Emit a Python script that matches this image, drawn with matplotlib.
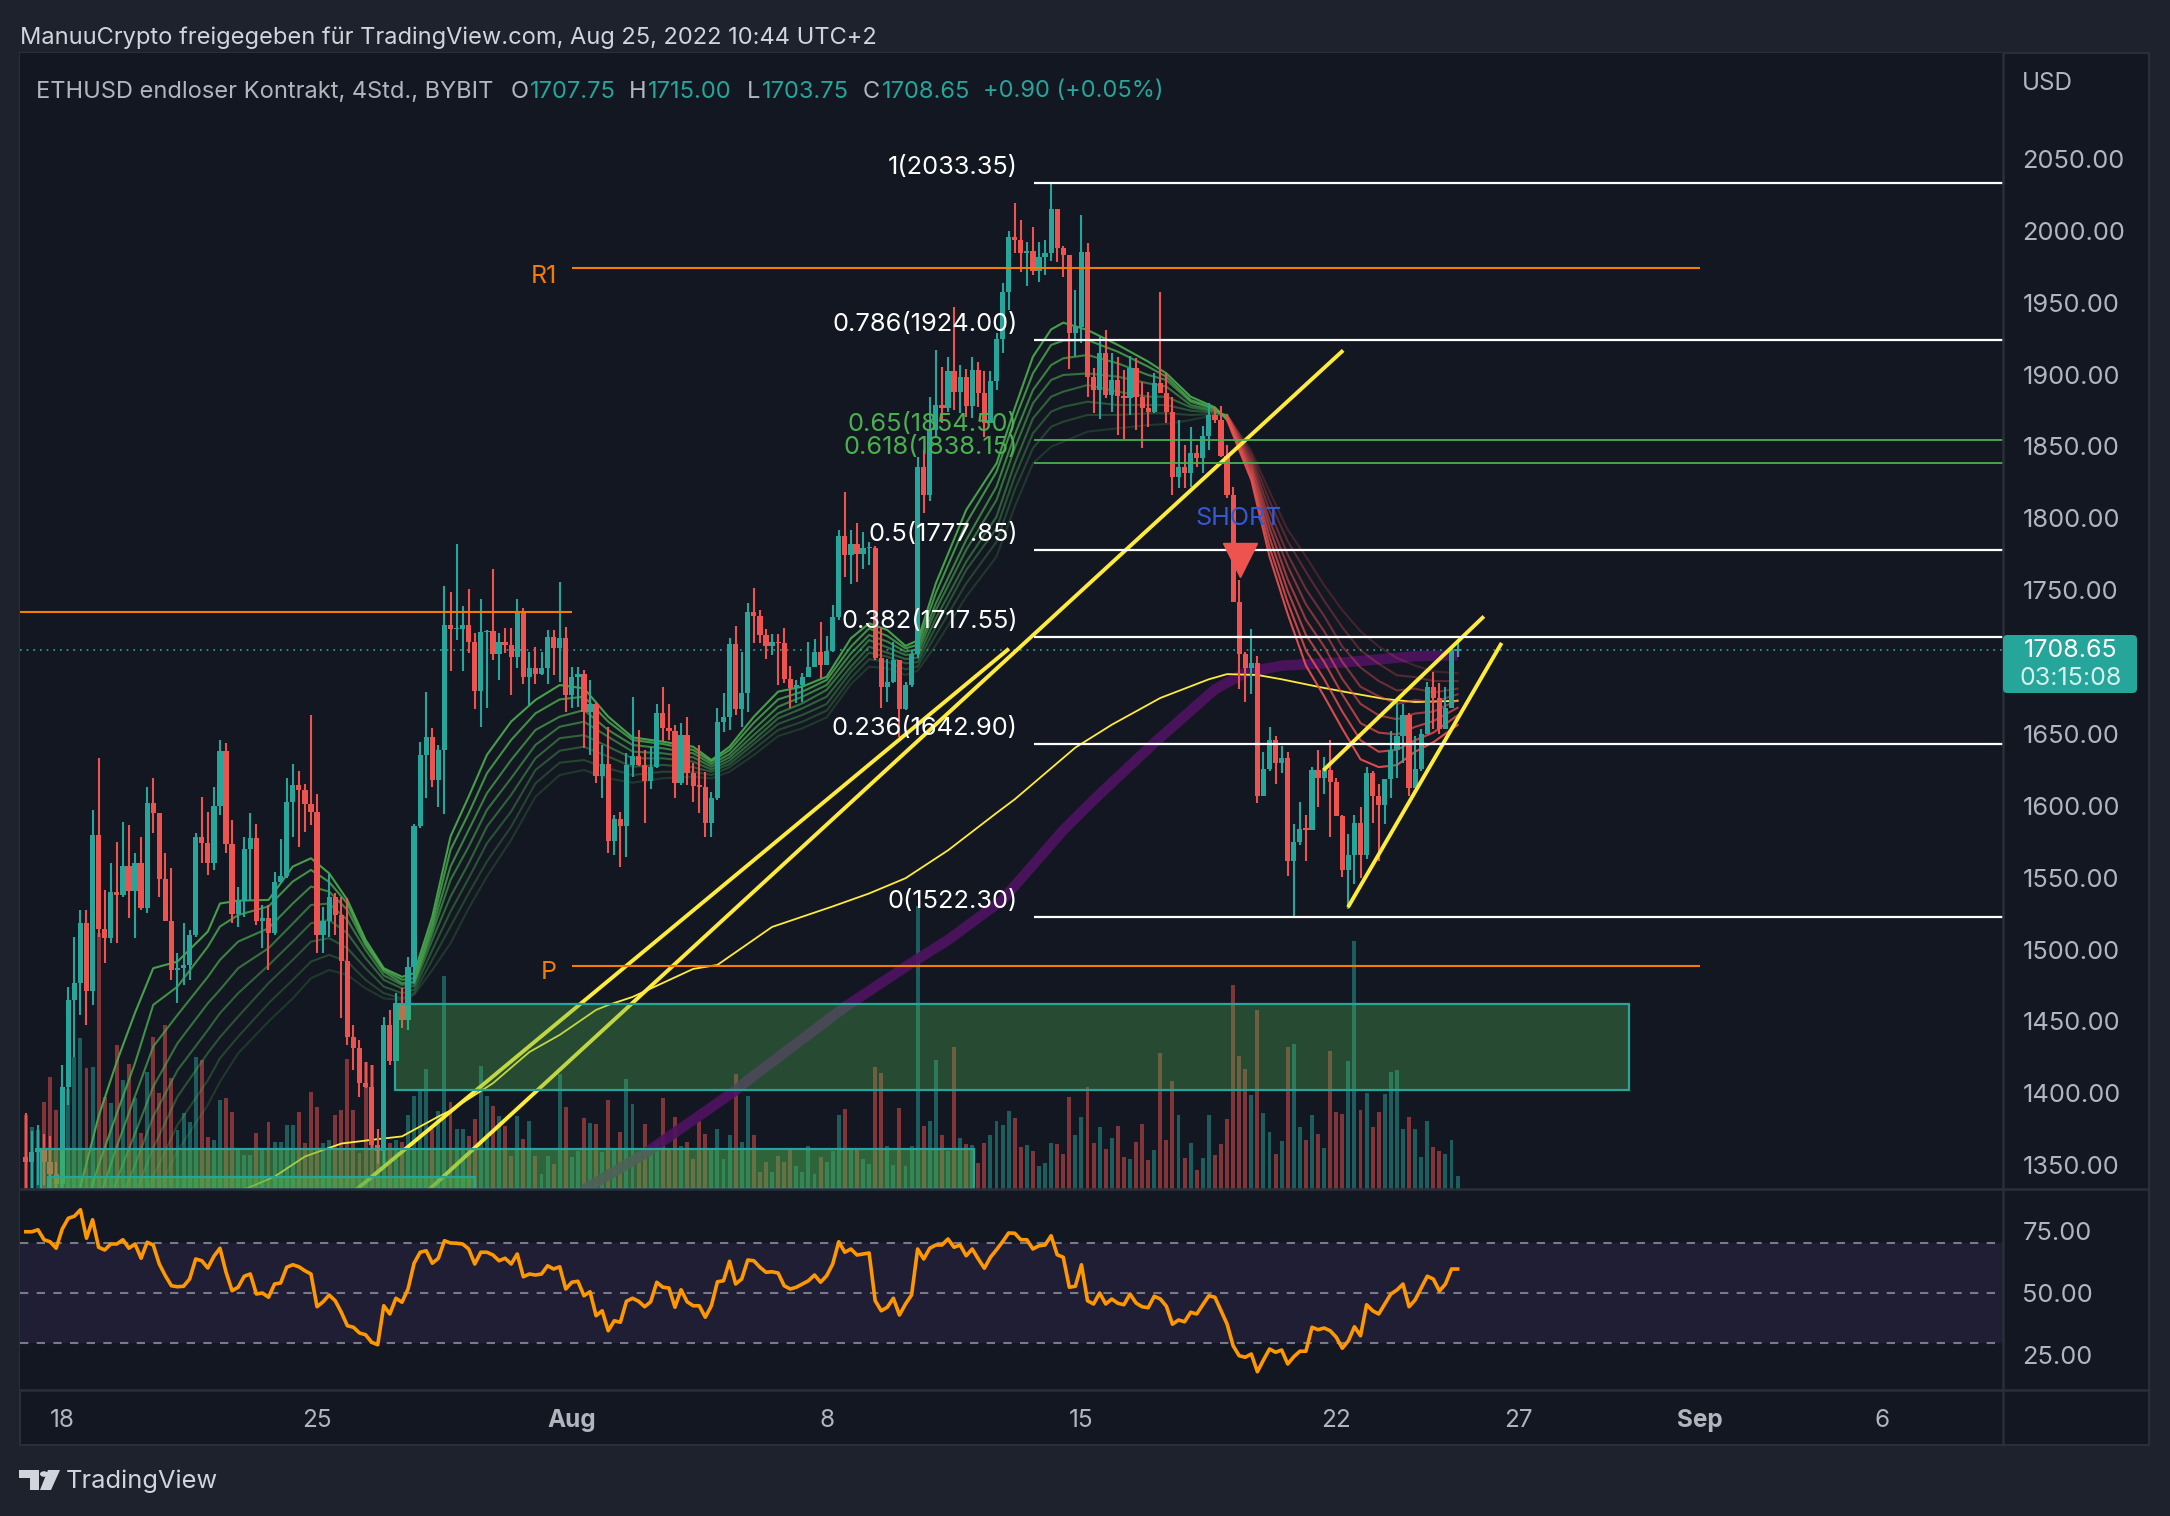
import numpy as np
import matplotlib
matplotlib.use('Agg')
import matplotlib.pyplot as plt
from matplotlib.patches import Rectangle, FancyBboxPatch, Polygon
from matplotlib.lines import Line2D

plt.rcParams['font.family'] = ['Inter', 'DejaVu Sans']

W, H = 2170, 1516

# 4h candles (open is the previous close)
first_open = 1356
closes = [
    1352,1359,1362,1352,1344,1337,1404.6,1465,1476.6,1518.3,1470.8,1579.7,1514.1,1508.3,1540.3,1538,1558.4,1541,1560,1528.7,
    1601.8,1594.8,1549.1,1520,1485.8,1487,1489.3,1510.2,1578.6,1574,1560,1600,1638.2,1573.5,1524.8,1534,1569.8,1577.4,1520,1521.8,
    1511.3,1547.3,1551.2,1602.9,1614.5,1611,1601.3,1596,1510.2,1520,1536.8,1524,1492.3,1439,1431.3,1407,1404.2,1364,1360,1447.6,
    1422.7,1462.6,1451,1488,1586,1635.4,1647.7,1618,1638.9,1726,1723,1723,1725.5,1714,1680,1720.8,1721.7,1705.8,1714,1712,
    1703.3,1735,1689.8,1695.6,1692,1695.6,1717.2,1710,1716.5,1677,1689.8,1692,1665.5,1671,1620.7,1629,1575.7,1591,1586,1628.4,
    1634.6,1628.4,1617.5,1626.7,1664.3,1654.3,1652.2,1616,1649.2,1622.6,1613.8,1613.3,1588.2,1605.2,1658.5,1662,1712.3,1667.3,1678.7,1735,
    1732,1718.8,1711.1,1714,1713,1688,1682.2,1684,1689.8,1696.8,1707.2,1698,1707.9,1731,1788,1774.2,1782,1775,1779,1779.5,
    1702.6,1682.4,1686.4,1701.4,1667.3,1684,1705.6,1835.4,1816,1861.4,1878.8,1876.5,1902.5,1888,1898,1878,1903,1887,1866,1895.7,
    1924.5,1957.7,1996,1993.6,1984.3,1986,1972.3,1981.5,1984.3,2015,1987.8,1983.2,1928.7,1932.8,1985,1898,1889,1915,1885.8,1896,
    1885,1883.5,1904.3,1884.6,1876.5,1874.2,1893.9,1887.4,1874.2,1828.5,1835.4,1831.3,1845.6,1841.7,1857.2,1871.9,1868.4,1843.3,1816.2,1742,
    1705.5,1695.6,1699.4,1607,1625.6,1645.6,1629.6,1633,1561.7,1575,1583.8,1583.3,1624.8,1619.5,1624.8,1616.3,1592.9,1555,1565.7,1587.8,
    1565.7,1623,1607,1600.3,1618.4,1638.9,1648.2,1662.9,1612.3,1625.6,1649.6,1682.3,1674.9,1653.6,1668.2,1707.75,1708.65,
]
highs = [
    1386,1374,1378,1372,1370,1352,1419.7,1474.2,1509,1527.6,1527.6,1597.1,1633.1,1541.5,1560,1575.1,1589,1586.7,1567,1578.6,
    1613.4,1619.2,1594.8,1567,1556.6,1497.4,1518.3,1513.6,1580.9,1606.4,1596,1613.4,1645.8,1643.5,1590.2,1543.8,1578.6,1594.8,1587.2,1531,
    1531,1554.2,1576.7,1619.2,1629.1,1624.5,1615.2,1663.2,1608.3,1529.9,1552.4,1539.2,1536.8,1535.7,1447.6,1437.1,1422,1419.7,1375,1453.4,
    1458,1469.6,1473,1495.1,1587,1644.7,1679.5,1654,1642.4,1753,1749,1782,1739,1750.6,1720,1744,1722,1765,1720,1723.4,
    1723.4,1743.6,1737.3,1707.2,1710.7,1707.2,1722.3,1722.3,1755.9,1724.6,1696.8,1696.8,1694.5,1687.5,1671.3,1642.3,1655,1593.6,1595.9,1636.5,
    1675.9,1652.7,1638.8,1641.1,1670.8,1682.9,1670.8,1656.2,1657.4,1662,1629.5,1642.3,1623.7,1609.8,1667.8,1678.2,1716.5,1725,1707.2,1740.8,
    1751.3,1736.2,1722.8,1719.5,1719.5,1723.4,1697.2,1687.5,1692.6,1714.2,1715.8,1728.1,1718.1,1739.7,1792,1818,1792,1797,1790.7,1783.5,
    1781,1723.4,1701.9,1714.2,1701,1686,1708.4,1842.6,1847.5,1884.6,1917,1905.5,1912.4,1947.2,1906.6,1903.6,1912,1909,1902.7,1902.7,
    1928.7,1963.5,2000,2019.1,2007.5,1992.4,2002.4,1992.4,1993.6,2033.35,2015.5,1989.4,1983.2,1958.8,2011,1991.3,1904.3,1926.4,1931,1914.8,
    1912,1903.2,1912.9,1911.3,1895,1888.1,1900.8,1957.7,1900.8,1884.6,1868.4,1851,1863.7,1851,1864.2,1880.4,1877.2,1878.1,1851,1822,
    1757.4,1706.8,1722.8,1704.1,1637.6,1654.9,1648.2,1641.6,1637.6,1587,1602.4,1593.7,1626.9,1638.9,1633.6,1646.1,1619,1593.7,1580.4,1593.7,
    1599,1626.9,1624.3,1615,1618.4,1652.2,1673.5,1670.9,1664.2,1648.2,1653.6,1686,1693,1685.5,1682.8,1712.1,1715,
]
lows = [
    1334,1334,1336,1336,1334,1334,1334,1391.9,1425.5,1454.5,1447.6,1461.5,1509,1490.4,1504.4,1504.4,1536.8,1521.8,1507.9,1527.6,
    1525.2,1580.9,1536.8,1520,1478.9,1462.6,1475.4,1478.9,1509,1560,1551.9,1555.4,1593.7,1567,1518.3,1516,1522.9,1534.5,1517.1,1500.9,
    1485.8,1510.2,1546.1,1549.6,1578.6,1571.6,1582.1,1586.7,1497.4,1497.4,1509,1510.2,1452.2,1433.6,1416.2,1397.7,1403.5,1361.8,1351,1351,
    1419.7,1422.7,1445.2,1444,1476.6,1584.4,1605.3,1613.4,1599.4,1594,1694,1715,1694,1706,1667,1655,1668,1701.5,1687.5,1706,
    1677,1695.6,1685,1670.1,1685,1691,1685,1691,1686.3,1665.5,1667.8,1669,1640,1635.3,1615.6,1605.2,1566.9,1565.8,1557.6,1564.6,
    1620.2,1627.7,1587.8,1611.4,1626.3,1644.6,1645.8,1605.2,1614.4,1614.4,1602.9,1594.7,1578,1578.5,1604,1651.6,1652.7,1663.2,1655,1665.5,
    1713,1713,1701.9,1704.9,1684,1685.2,1667.8,1671.3,1672.4,1689.8,1696.8,1688.7,1698,1707.2,1729,1759,1754.6,1756,1764.7,1767.6,
    1701.4,1667.8,1672.4,1685.2,1648,1666.6,1682.9,1703,1803.4,1812,1856.8,1866,1874.2,1875.3,1873,1870.7,1869.5,1877.6,1856.8,1866,
    1889.2,1915.2,1945,1984.3,1971.6,1961.6,1969.3,1964.6,1969.3,1979.2,1978.5,1968.1,1903.6,1912.9,1921.7,1884.6,1873,1868.8,1883.5,1874.2,
    1858,1855,1871.9,1861.4,1848.7,1863.7,1873,1886.9,1866,1816.2,1820.8,1820.8,1822,1835.9,1831.3,1847.5,1866,1842.9,1813.9,1742,
    1681.5,1672.2,1677.5,1601.6,1607,1624.3,1615,1623,1551.1,1523.1,1572.4,1561.7,1583.3,1599,1608.3,1578.5,1592.9,1550.3,1527.9,1545.8,
    1549.7,1563,1588.3,1561.7,1587,1605.6,1619,1629.6,1607,1612.3,1624.3,1649.6,1653.6,1649.6,1654.9,1668,1703.75,
]
volumes = [
    222,187,177,262,337,237,257,300,397,452,362,367,767,277,257,432,327,375,272,167,
    352,457,287,492,332,177,227,202,397,387,157,147,267,272,232,122,102,102,167,117,
    202,142,142,192,192,232,137,290,247,137,147,222,237,390,237,107,382,372,130,257,
    137,147,142,222,280,295,360,180,235,640,260,180,180,160,210,370,280,250,220,190,
    100,220,150,205,100,45,100,75,345,245,95,115,213,198,195,110,267,120,170,330,
    255,110,195,120,142,273,120,215,130,140,90,205,165,120,180,90,162,345,142,280,
    162,50,80,50,100,80,120,70,50,128,45,95,80,115,222,240,120,120,90,75,
    365,348,130,72,243,70,128,849,190,205,387,162,115,425,152,135,132,78,138,162,
    205,192,234,213,126,132,114,70,78,138,135,105,276,162,216,305,138,186,120,153,
    189,96,90,141,195,87,117,408,147,324,222,93,138,57,93,222,102,135,210,612,
    399,360,282,537,228,171,105,144,426,435,186,147,222,165,123,414,231,225,384,745,
    237,288,186,231,285,351,357,180,216,180,96,204,126,114,105,147,39,
]
rsi = [
    74.5,74.5,75.3,71.3,70.5,67.9,75.6,79.9,80.7,83.3,71.9,79.3,68.3,67.2,69.6,69.6,71.3,67.9,69.6,63.9,
    70.3,69.2,61.6,56.9,52.9,52.5,52.7,55.6,63.6,62.9,60,64.7,67.9,58.3,50.9,52.3,56.7,57.6,49.6,50,
    48.3,53.6,54,60.3,61.3,60.5,58.9,57.6,44.5,46.5,49.2,46.9,42.3,36.9,36.3,34,33.3,30.3,29.3,44.9,
    41.6,47.9,46.3,51.6,61.9,66.3,66.9,61.9,63.9,70.9,70,69.9,69.6,67.6,61.6,66.3,66.3,65.2,62.9,63.9,
    61.6,65.6,56.5,57.6,57.2,57.6,60.9,59.6,60.5,51.6,54.3,54.7,48.9,50.5,40.9,42.9,34.9,38.9,38.3,46.7,
    47.9,46.7,44.5,46.5,54.3,52.3,52,44.3,51.3,46.5,44.9,44.9,40.3,44.9,54.5,54.9,62.7,53.6,55.6,63.2,
    62.9,60.3,58.3,58.5,58,52.9,51.6,52.3,53.6,54.9,57.2,54.3,56.9,61.6,70.5,66.3,67.6,65.2,65.6,66,
    46.9,42.9,44.3,47.9,41.2,45.6,49.2,67.6,63.6,67.9,69.2,69.2,71.6,68.3,69.2,64.9,67.6,63.6,59.9,64.3,
    67.3,70.5,74,73.9,71.3,71.3,67.6,68.9,69.2,72.9,65.3,64.3,52.3,52.7,61.3,46.9,45.6,50,45.6,47.6,
    45.9,45.3,49.6,46,44.5,44.1,48.7,47.6,44.7,37.5,39.2,38.5,42.3,41.6,45.3,48.9,48.3,42.9,37.6,28.9,
    24.9,24.3,25.6,18.5,23.2,27.6,26.3,27.2,21.6,24.5,26.7,26.7,36.3,35.3,36,34.9,32.3,27.9,30.9,36.5,
    32.9,45.3,42.9,41.6,45.6,49.6,51.2,53.6,44.5,47.2,52,56.7,55.6,50.8,53.6,59.6,59.6,
]

# EMA ribbon, fastest to slowest, sampled at these bars
ribbon_x = [9,12,15,18,21,25,30,32,35,40,44,47,50,53,56,59,62,64,
            67,70,73,76,80,84,88,92,96,100,105,110,113,116,120,124,128,132,136,139,142,145,
            147,150,155,160,163,166,169,171,175,180,185,188,192,196,198,
            202,205,208,211,214,217,220,223,226,229,232,236]
ribbon_1 = [1335,1384,1422,1456,1487,1491.6,1512.5,1532,1534,1534.5,1557.7,1563.5,1553,1534.5,1506.7,1487,1481,1483.5,
            1522.9,1578.6,1606.4,1635.4,1658.6,1673.6,1684,1681.7,1662,1647.6,1644.6,1641.1,1631.8,1641.1,1662,1679.4,1682.9,1689.8,1716.5,1726.9,1722.3,1711.2,
            1715,1754.7,1805.8,1838.2,1876.5,1912.4,1931.4,1936.1,1931,1920.6,1909,1900.8,1884.6,1877.2,1868.4,
            1826.6,1773.4,1733.4,1697.5,1676.2,1653.6,1632.3,1626.9,1628.3,1637.6,1644.2,1656.2]
ribbon_2 = [1310,1350,1386,1421,1461.5,1474.2,1502,1516,1524,1530,1547.3,1555.4,1547,1532,1504.4,1486,1479,1480,
            1518.3,1569.3,1594.8,1622.6,1645.8,1664.3,1674,1675.9,1658.5,1645.8,1643,1638.8,1630.7,1638.8,1657.8,1674,1679.4,1687.5,1710.7,1723.4,1718.1,1709.5,
            1712,1748,1796.5,1832.4,1868.4,1900.8,1920.6,1923.6,1924,1915.9,1905.5,1898.5,1882.3,1876.5,1869.5,
            1829.5,1780,1741.4,1708.1,1688.2,1665.5,1645.6,1637.6,1638.9,1645.6,1650.9,1662.9]
ribbon_3 = [1290,1325,1363,1398,1432.5,1454.5,1481,1492.8,1505.5,1514.8,1532,1543.8,1540.3,1527.6,1503,1484.7,1476.6,1477.7,
            1514.8,1557.7,1583.2,1608.7,1631.9,1652.7,1662,1666.6,1652.7,1642.3,1640,1636.5,1629,1636,1653.2,1668.9,1675.9,1684,1706,1718.8,1714.2,1707.2,
            1709,1740.8,1784.9,1822,1858,1889.2,1906.6,1911.3,1913.6,1907.8,1899.7,1896.2,1881.1,1875.8,1870.2,
            1832.4,1786.7,1749.4,1718.8,1700.1,1677.5,1657.5,1650.9,1649.6,1654.9,1658.9,1668.2]
ribbon_4 = [1270,1300,1340,1372,1404.6,1434.8,1462.6,1472,1487,1500.9,1518,1531,1532,1520.6,1499.7,1482,1475.4,1476.6,
            1511.3,1548.4,1571.6,1597.1,1619.2,1642.3,1655,1658.5,1648,1637.7,1636.5,1633.7,1627.2,1633.7,1649.2,1664.3,1671.3,1680.6,1701.4,1715.3,1710.2,1704.9,
            1706,1736.2,1778,1812.7,1848.7,1880,1896.2,1899.7,1900.8,1898.5,1893.9,1891.6,1878.8,1874.9,1870.7,
            1835.4,1793.3,1757.4,1729.4,1710.8,1688.2,1670.9,1662.9,1660.2,1664.2,1665.5,1673.5]
ribbon_5 = [1250,1280,1320,1350,1383.8,1416,1444,1455.7,1469.6,1489,1505.5,1518.3,1520.6,1511.3,1494,1478.9,1473,1474.7,
            1506.7,1536.8,1560,1585.5,1607.6,1633,1647,1649.2,1641.1,1633,1633,1630.7,1625.3,1631.4,1645.8,1660.8,1667.8,1675.9,1696.8,1710.7,1706.5,1702.1,
            1703,1730.4,1769.8,1801.1,1838.2,1869.5,1884.6,1888.1,1892.7,1888.1,1884.6,1884.6,1877.2,1874.2,1871.4,
            1838.3,1798.6,1766.7,1740.1,1721.4,1700.1,1682.8,1676.2,1670.9,1673.5,1672.2,1677.5]
ribbon_6 = [1240,1270,1300,1330,1362,1397.7,1428,1439,1453.4,1476.6,1492.8,1505.5,1507.9,1500.9,1487,1474.2,1469.6,1472,
            1499.7,1526.4,1549.6,1573.9,1596,1624.9,1638.3,1641.1,1634.2,1627.2,1628.4,1626.8,1623.7,1629,1643,1656.9,1663.2,1670.8,1693.3,1706.5,1703.7,1699.1,
            1700,1724.6,1764,1793,1829,1859.1,1874.2,1877.6,1881.1,1878.8,1878.8,1878.8,1874.9,1873.5,1871.9,
            1841.2,1805.3,1774.7,1750.7,1732.1,1710.8,1696.2,1686.8,1680.2,1681.5,1678.8,1681.5]
ribbon_7 = [1230,1260,1285,1310,1342,1378,1409,1424.4,1439.4,1462.6,1478.9,1491.6,1496.3,1491.6,1478.9,1469.6,1466,1469.6,
            1492.8,1516,1539.2,1561.2,1585.5,1615.6,1630,1631.8,1626,1621.4,1623.7,1623.7,1621.4,1626.8,1639.3,1652.7,1658.5,1666.2,1688.7,1701.9,1700.3,1694.9,
            1697,1718.8,1754.7,1783.7,1819.7,1848.7,1863.7,1867.2,1871.9,1871.9,1873,1873,1871.9,1872.6,1871.9,
            1843.9,1812,1784,1762.7,1742.7,1724.1,1708.1,1698.8,1690.8,1689.5,1686.8,1686.8]
ribbon_8 = [1220,1250,1270,1295,1325,1360,1392,1408,1427.8,1449.9,1466,1480,1485.8,1482.3,1473,1466,1464.9,1468.4,
            1485.8,1504.4,1528.7,1550.7,1576.3,1606.3,1621.4,1624.9,1619.1,1616.1,1619.1,1620.2,1619.1,1623.7,1635.3,1648.5,1653.9,1661.5,1684.7,1696.8,1695.6,1691,
            1694,1711.8,1745.5,1773.3,1808.1,1838.2,1849.8,1853.3,1860.3,1862.6,1864.9,1865.6,1868.4,1871.9,1871.9,
            1846.6,1818.6,1792,1773.4,1753.4,1736.1,1721.4,1710.8,1702.8,1697.5,1693.5,1692.2]
ribbons = [ribbon_1, ribbon_2, ribbon_3, ribbon_4, ribbon_5, ribbon_6, ribbon_7, ribbon_8]
ribbon_alpha = [.9, .8, .7, .6, .5, .4, .3, .22]
ribbon_flip = 198

# thin yellow and thick purple moving averages
sma_x = [36,41,46,52,57,62,68,70,77,83,88,94,96,100,110,114,123,133,139,145,152,160,163,173,179,187,195,198,203,207,213,218,224,229,236]
sma_y = [1333,1342,1356,1365,1367.6,1370,1383.8,1388,1407,1428.7,1440.6,1458,1461.4,1467,1486.5,1489.3,1515.7,1530,1539,1549.6,1569,1595,1604.5,1640.5,1656.4,1675,1688,1691.6,1691,1688,1682.8,1678.8,1674.3,1672.2,1673]
purple_x = [92,102,117,119,135,146,152,161,171,176,186,196,201,207,218,229,236]
purple_y = [1333,1358,1402,1409,1460,1490.7,1506.6,1534.6,1583,1604,1643.8,1681,1692.6,1697.5,1700,1704,1704.7]

fib_levels = [2033.35, 1924.00, 1777.85, 1717.55, 1642.90, 1522.30]
fib_names = ['1', '0.786', '0.5', '0.382', '0.236', '0']
fib_green_levels = [1854.50, 1838.15]
fib_green_names = ['0.65', '0.618']

# 1700.00 sits behind the last price tag in the original, so it is not listed
price_ticks = [1350, 1400, 1450, 1500, 1550, 1600, 1650, 1750, 1800, 1850, 1900, 1950, 2000, 2050]
rsi_ticks = [25, 50, 75]
time_ticks = [6, 48, 90, 132, 174, 216, 246, 276, 306]
time_labels = ['18', '25', 'Aug', '8', '15', '22', '27', 'Sep', '6']

BG = '#1e222d'
PANE = '#131722'
BORDER = '#2a2e39'
TEXT = '#b2b5be'
UP = '#26a69a'
DOWN = '#ef5350'
ORANGE = '#f57c00'
YELLOW = '#ffeb3b'


def fx(px):
    return px / W


def fy(px):
    return 1 - px / H


def ax_rect(left, top, right, bottom):
    return [fx(left), fy(bottom), (right - left) / W, (bottom - top) / H]


fig = plt.figure(figsize=(W / 100, H / 100), dpi=100, facecolor=BG)
fig.add_artist(Rectangle((fx(20), fy(1445)), 2129 / W, 1392 / H, transform=fig.transFigure,
                         facecolor=PANE, edgecolor=BORDER, linewidth=1.5, zorder=-5))

XLIM = (-0.96, 325.9)
ax_vol = fig.add_axes(ax_rect(20, 53, 2003, 1189), zorder=0)
ax = fig.add_axes(ax_rect(20, 53, 2003, 1189), zorder=1)
ax_rsi = fig.add_axes(ax_rect(20, 1189, 2003, 1390), zorder=1)

# volume underneath everything
closes_a = np.array(closes)
opens_a = np.concatenate([[first_open], closes_a[:-1]])
highs_a = np.array(highs)
lows_a = np.array(lows)
x = np.arange(len(closes))
colors = [UP if c >= o else DOWN for o, c in zip(opens_a, closes_a)]

ax_vol.bar(x, volumes, width=0.65, color=colors, alpha=0.5, linewidth=0)
ax_vol.set_xlim(XLIM)
ax_vol.set_ylim(0, 3408)
ax_vol.set_facecolor(PANE)
ax_vol.set_xticks([])
ax_vol.set_yticks([])

ax.patch.set_alpha(0)
ax.set_xlim(XLIM)
ax.set_ylim(1333.4, 2123.7)

ax.plot(purple_x, purple_y, color='#4e1361', linewidth=7.5, alpha=0.9, zorder=1.5, solid_capstyle='butt')
ax.plot(sma_x, sma_y, color=YELLOW, linewidth=1.3, zorder=2)

for line, alpha in zip(ribbons, ribbon_alpha):
    split = ribbon_x.index(ribbon_flip)
    ax.plot(ribbon_x[:split + 1], line[:split + 1], color='#4caf50', alpha=alpha, linewidth=1.5, zorder=2.5)
    ax.plot(ribbon_x[split:], line[split:], color=DOWN, alpha=alpha, linewidth=1.5, zorder=2.5)

# candles
ax.vlines(x, lows_a, highs_a, colors=colors, linewidth=1.5, zorder=3)
body_low = np.minimum(opens_a, closes_a)
body_h = np.maximum(np.abs(closes_a - opens_a), 1.0)
ax.bar(x, body_h, bottom=body_low, width=0.86, color=colors, linewidth=0, zorder=3.1)

# trend lines
ax.plot([54.6, 161.8], [1333.4, 1708.4], color=YELLOW, linewidth=2.8, zorder=4)
ax.plot([66.6, 216.9], [1333.4, 1915.9], color=YELLOW, linewidth=2.8, zorder=4)
ax.plot([214.1, 240.1], [1625.6, 1730.8], color=YELLOW, linewidth=2.8, zorder=4)
ax.plot([218.1, 243.1], [1530.6, 1712.1], color=YELLOW, linewidth=2.8, zorder=4)

# zones sit above candles and lines
for left, right, bottom, top, alpha in [(60.9, 264.2, 1402.3, 1462.1, 0.35),
                                        (2.5, 156.3, 1333.4, 1361.5, 0.5),
                                        (3.7, 74.1, 1333.4, 1342, 0.5)]:
    ax.add_patch(Rectangle((left, bottom), right - left, top - bottom, facecolor='#4caf50', alpha=alpha,
                           linewidth=0, zorder=5))
    ax.add_patch(Rectangle((left, bottom), right - left, top - bottom, fill=False, edgecolor='#26a69a',
                           linewidth=1.6, zorder=5.1))

# pivots
ax.hlines(1735, XLIM[0], 90, color=ORANGE, linewidth=1.5, zorder=4.5)
ax.hlines([1973.8, 1488.6], 90, 276, color=ORANGE, linewidth=1.5, zorder=4.5)
ax.text(87.5, 1968, 'R1', color=ORANGE, fontsize=18, ha='right', va='center', zorder=7)
ax.text(87.5, 1484, 'P', color=ORANGE, fontsize=18, ha='right', va='center', zorder=7)

# fib levels
FIB_X = 166.2
for level, name in zip(fib_levels, fib_names):
    ax.hlines(level, FIB_X, XLIM[1], color='white', linewidth=1.6, zorder=4.5)
    ax.text(163.5, level + 11, f'{name}({level:.2f})', color='white', fontsize=18.3, ha='right', va='center', zorder=7)
for level, name in zip(fib_green_levels, fib_green_names):
    ax.hlines(level, FIB_X, XLIM[1], color='#4caf50', linewidth=1.3, zorder=4.5)
    ax.text(163.5, level + 11, f'{name}({level:.2f})', color='#4caf50', fontsize=18.3, ha='right', va='center', zorder=7)

ax.axhline(1708.65, color=UP, linewidth=1.2, linestyle=(0, (1, 3)), zorder=2.2)

ax.plot([200.2], [1771], marker='v', markersize=25, color=DOWN, linestyle='none', zorder=6)
ax.text(199.9, 1800, 'SHORT', color='#3558d4', fontsize=18, ha='center', va='center', zorder=7)

ax.yaxis.tick_right()
ax.set_yticks(price_ticks)
ax.set_yticklabels([f'{p:.2f}' for p in price_ticks])
ax.tick_params(axis='y', length=0, pad=14, labelsize=18.3, labelcolor=TEXT)
ax.set_xticks([])
for spine in ax.spines.values():
    spine.set_visible(False)
for spine in ax_vol.spines.values():
    spine.set_visible(False)

# RSI pane
ax_rsi.set_facecolor(PANE)
ax_rsi.axhspan(30, 70, color='#7e57c2', alpha=0.12, linewidth=0, zorder=1)
for level in [30, 50, 70]:
    ax_rsi.axhline(level, color='#787b86', linewidth=1.5, linestyle=(0, (4, 4)), zorder=2)
ax_rsi.plot(x, rsi, color='#ff9800', linewidth=2.6, zorder=3)
ax_rsi.set_xlim(XLIM)
ax_rsi.set_ylim(11.2, 91.6)
ax_rsi.yaxis.tick_right()
ax_rsi.set_yticks(rsi_ticks)
ax_rsi.set_yticklabels([f'{v:.2f}' for v in rsi_ticks])
ax_rsi.tick_params(axis='y', length=0, pad=14, labelsize=18.3, labelcolor=TEXT)
ax_rsi.set_xticks(time_ticks)
ax_rsi.set_xticklabels(time_labels)
ax_rsi.tick_params(axis='x', length=0, pad=14, labelsize=17.5, labelcolor=TEXT)
for lab in ax_rsi.get_xticklabels():
    if lab.get_text() in ('Aug', 'Sep'):
        lab.set_fontweight('bold')
for spine in ax_rsi.spines.values():
    spine.set_visible(False)

# pane dividers
for x0, y0, x1, y1 in [(20, 1189, 2149, 1189), (20, 1390, 2149, 1390), (2003, 53, 2003, 1445)]:
    fig.add_artist(Line2D([fx(x0), fx(x1)], [fy(y0), fy(y1)], color=BORDER, linewidth=1.8, zorder=5))

# header and legend
fig.text(fx(20), fy(37.5), 'ManuuCrypto freigegeben für TradingView.com, Aug 25, 2022 10:44 UTC+2',
         color='#d1d4dc', fontsize=17, va='center')
legend_y = fy(91.5)
fig.text(fx(36), legend_y, 'ETHUSD endloser Kontrakt, 4Std., BYBIT', color=TEXT, fontsize=17, va='center')
for px, label, value, gap in [(511, 'O', '1707.75', 19), (629, 'H', '1715.00', 19),
                              (747, 'L', '1703.75', 15), (863, 'C', '1708.65', 19)]:
    fig.text(fx(px), legend_y, label, color=TEXT, fontsize=17, va='center')
    fig.text(fx(px + gap), legend_y, value, color=UP, fontsize=17, va='center')
fig.text(fx(983), legend_y, '+0.90 (+0.05%)', color=UP, fontsize=17, va='center')

fig.text(fx(2022), fy(83), 'USD', color=TEXT, fontsize=17.5, va='center')

# last price tag
fig.add_artist(FancyBboxPatch((fx(2003), fy(693)), 134 / W, 58 / H, boxstyle='round,pad=0,rounding_size=0.002',
                              transform=fig.transFigure, facecolor='#26a69a', edgecolor='none',
                              mutation_aspect=W / H, zorder=6))
fig.text(fx(2071), fy(650.5), '1708.65', color='white', fontsize=18, ha='center', va='center', zorder=7)
fig.text(fx(2071), fy(678.5), '03:15:08', color='#d5f0ec', fontsize=18, ha='center', va='center', zorder=7)

# TradingView mark
for pts in [[(19, 1470), (39, 1470), (39, 1490), (30, 1490), (30, 1478), (19, 1478)],
            [(48, 1470), (60, 1470), (51, 1490), (40, 1490)]]:
    fig.add_artist(Polygon([(fx(a), fy(b)) for a, b in pts], closed=True, transform=fig.transFigure,
                           facecolor='#d1d4dc', edgecolor='none', zorder=6))
fig.add_artist(plt.Circle((fx(44), fy(1474)), 4 / W, transform=fig.transFigure, facecolor='#d1d4dc',
                          edgecolor='none', zorder=6))
fig.text(fx(66), fy(1481), 'TradingView', color='#d1d4dc', fontsize=18.3, va='center')

fig.savefig('out.png', dpi=100, facecolor=BG)
